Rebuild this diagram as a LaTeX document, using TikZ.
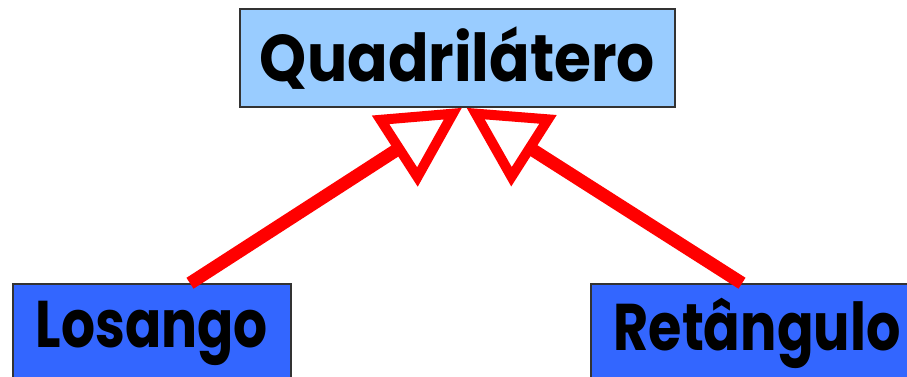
\documentclass[tikz,border=0pt]{standalone}
\usepackage{fontspec}
\setmainfont{Poppins}
\usetikzlibrary{arrows.meta}
\definecolor{lightbox}{HTML}{99CCFF}
\definecolor{darkbox}{HTML}{3366FF}
\definecolor{boxline}{HTML}{333333}
\newcommand{\fitw}[2]{\resizebox{#1}{\height}{#2}}
\begin{document}
\begin{tikzpicture}[x=1pt,y=-1pt,
  classbox/.style={draw=boxline, line width=1.5pt, minimum height=98pt, inner sep=0pt,
    font=\fontsize{66}{66}\selectfont\bfseries, text=black},
  inherit/.style={draw=red, line width=13pt,
    -{Triangle[fill=white, length=80pt, width=82pt, line width=10pt]}}]
\useasboundingbox (0,0) rectangle (907,377);
\node[classbox, fill=lightbox, minimum width=435pt] (Q) at (457.5,58) {\fitw{395pt}{Quadrilátero}};
\node[classbox, fill=darkbox, minimum width=278pt] (L) at (152,333) {\fitw{232pt}{Losango}};
\node[classbox, fill=darkbox, minimum width=332pt] (R) at (757,333) {\fitw{287pt}{Retângulo}};
\coordinate (Lstart) at ([xshift=38pt]L.north);
\coordinate (Rstart) at ([xshift=-15pt]R.north);
\coordinate (Lend) at ([xshift=4.5pt]Q.south);
\coordinate (Rend) at ([xshift=9pt]Q.south);
\draw[inherit] (Lstart) -- (Lend);
\draw[inherit] (Rstart) -- (Rend);
\end{tikzpicture}
\end{document}
